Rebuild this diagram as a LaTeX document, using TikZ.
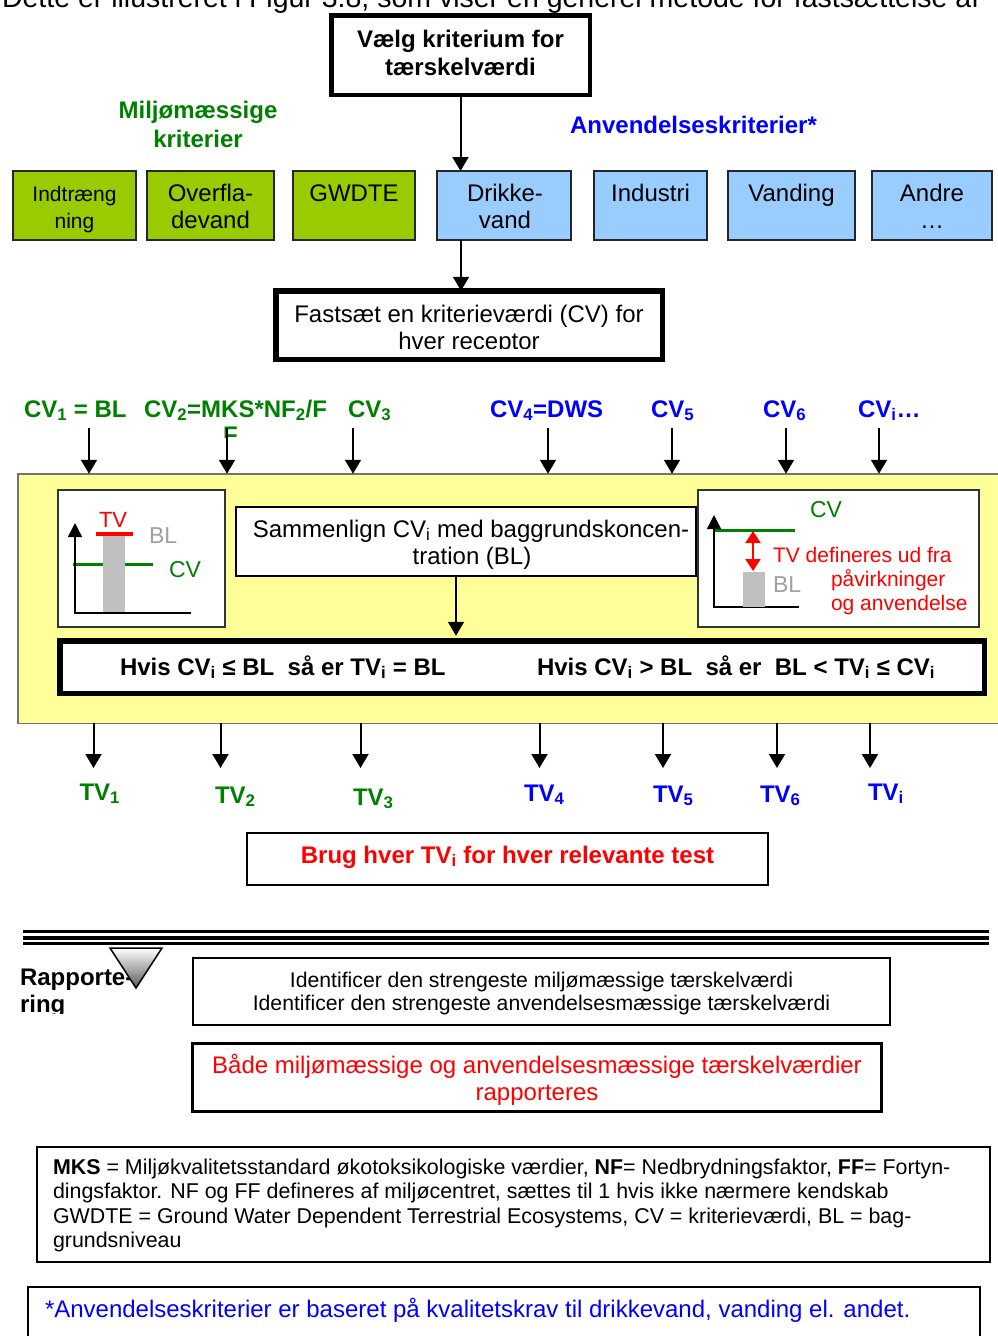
\documentclass[tikz,border=0pt]{standalone}
\usepackage{fontspec}
\setmainfont{Liberation Sans}
\usetikzlibrary{arrows.meta}
\definecolor{mgreen}{HTML}{008000}
\definecolor{mblue}{HTML}{0000FF}
\definecolor{mred}{HTML}{FF0000}
\definecolor{boxgreen}{HTML}{99CC00}
\definecolor{boxblue}{HTML}{99CCFF}
\definecolor{myellow}{HTML}{FFFF99}
\definecolor{bargray}{HTML}{C0C0C0}
\definecolor{blgray}{HTML}{A0A0A0}
\newcommand{\fsz}[1]{\fontsize{#1}{#1}\selectfont}
\newcommand{\sbs}[1]{\textsubscript{#1}}
\begin{document}
\begin{tikzpicture}[x=1pt,y=-1pt,
 every node/.style={inner sep=0pt,outer sep=0pt},
 t24/.style={font=\fsz{24}},
 b24/.style={font=\bfseries\fsz{24}},
 t21/.style={font=\fsz{21}},
 arr/.style={line width=2pt,-{Triangle[length=14pt,width=16pt]}},
 axarr/.style={line width=1.5pt,-{Triangle[length=14pt,width=14pt]}},
 crit/.style={draw=black!85,line width=2pt,minimum height=69pt},
 critg/.style={crit,fill=boxgreen},
 critb/.style={crit,fill=boxblue},
 thinbox/.style={draw=black,line width=2pt,fill=white},
 thickbox/.style={draw=black,line width=5.5pt,fill=white},
 plotbox/.style={draw=black!80,line width=2pt,fill=white},
]
\useasboundingbox (0,0) rectangle (997,1336);

% intro line (cut off by the page)
\node[font=\fsz{28.5},anchor=base west] (intro) at (2,7.5) {Dette er illustreret i Figur 3.8, som viser en generel metode for fastsættelse af};

% top box
\node[thickbox,line width=4.5pt,minimum width=258.5pt,minimum height=79.5pt] (vaelg) at (460.5,55) {};
\node[b24,anchor=base] (vaelg1) at (460.5,47) {Vælg kriterium for};
\node[b24,anchor=base] (vaelg2) at (460.5,75) {tærskelværdi};

\node[b24,text=mgreen,anchor=base] (milj1) at (198,118) {Miljømæssige};
\node[b24,text=mgreen,anchor=base] (milj2) at (198,147) {kriterier};
\node[b24,text=mblue,anchor=base] (anv) at (693.5,133) {Anvendelseskriterier*};

% criteria boxes
\node[critg,minimum width=123pt] (ind) at (74.5,205.5) {};
\node[critg,minimum width=127pt] (ovf) at (210.5,205.5) {};
\node[critg,minimum width=122pt] (gwd) at (354,205.5) {};
\node[critb,minimum width=134pt] (drk) at (504,205.5) {};
\node[critb,minimum width=113pt] (ids) at (650.5,205.5) {};
\node[critb,minimum width=127pt] (vnd) at (791.5,205.5) {};
\node[critb,minimum width=120pt] (and) at (932,205.5) {};

\node[t21,anchor=base] (ind1) at (74.5,201) {Indtræng};
\node[t21,anchor=base] (ind2) at (74.5,228) {ning};
\node[t24,anchor=base] (ovf1) at (210.5,201) {Overfla-};
\node[t24,anchor=base] (ovf2) at (210.5,228) {devand};
\node[t24,anchor=base] (gwd1) at (354,201) {GWDTE};
\node[t24,anchor=base] (drk1) at (505,201) {Drikke-};
\node[t24,anchor=base] (drk2) at (505,228) {vand};
\node[t24,anchor=base] (ids1) at (650.5,201) {Industri};
\node[t24,anchor=base] (vnd1) at (791.5,201) {Vanding};
\node[t24,anchor=base] (and1) at (932,201) {Andre};
\node[t24,anchor=base] (and2) at (932,228) {…};

% arrows top
\draw[arr] (vaelg.south) -- (vaelg.south |- drk.north);
\coordinate (a2x) at (461,0);
\node[thickbox,minimum width=386.5pt,minimum height=68.5pt] (fast) at (469,325) {};
\draw[arr] (drk.south -| a2x) -- (fast.north -| a2x);
\node[t24,anchor=base] (fast1) at (469,322) {Fastsæt en kriterieværdi (CV) for};
\begin{scope}
\clip (276,300) rectangle (662,348.5);
\node[t24,anchor=base] (fast2) at (469,349) {hver receptor};
\end{scope}

% CV labels
\node[b24,text=mgreen,anchor=base west] (cv1) at (24,417) {CV\sbs{1} = BL};
\node[b24,text=mgreen,anchor=base west] (cv2) at (144,417) {CV\sbs{2}=MKS*NF\sbs{2}/F};
\begin{scope}
\clip (200,420) rectangle (260,437);
\node[b24,text=mgreen,anchor=base west] (cv2b) at (223,443) {F};
\end{scope}
\node[b24,text=mgreen,anchor=base west] (cv3) at (348,417) {CV\sbs{3}};
\node[b24,text=mblue,anchor=base west] (cv4) at (490,417) {CV\sbs{4}=DWS};
\node[b24,text=mblue,anchor=base west] (cv5) at (651,417) {CV\sbs{5}};
\node[b24,text=mblue,anchor=base west] (cv6) at (763,417) {CV\sbs{6}};
\node[b24,text=mblue,anchor=base west] (cvi) at (858,417) {CV\sbs{i}…};

% yellow box
\node[draw=black!55,line width=1.5pt,fill=myellow,minimum width=986.5pt,minimum height=249.5pt] (yel) at (511,598.5) {};

\foreach \n/\x in {1/89,2/227,3/353,4/548,5/672,6/786,7/879}{
  \coordinate (u\n) at (\x,428);
  \draw[arr] (u\n) -- (u\n |- yel.north);
}

% left plot box
\node[plotbox,minimum width=167pt,minimum height=137pt] (lbox) at (141.5,558.5) {};
\draw[mgreen,line width=3pt] (73,564) -- (153,564);
\fill[bargray] (103,535) rectangle (125,613);
\draw[mred,line width=3.5pt] (96,534) -- (133,534);
\draw[axarr] (191,613) -- (75,613) -- (75,523);
\node[font=\fsz{22},text=mred,anchor=base west] (ltv) at (99,527) {TV};
\node[font=\fsz{23},text=blgray,anchor=base west] (lbl) at (149,543) {BL};
\node[font=\fsz{23},text=mgreen,anchor=base west] (lcv) at (169,577) {CV};

% compare box
\node[thinbox,minimum width=460pt,minimum height=69pt] (smb) at (466,541.5) {};
\node[t24,anchor=base] (smb1) at (471,537) {Sammenlign CV\sbs{i} med baggrundskoncen-};
\node[t24,anchor=base] (smb2) at (472,564) {tration (BL)};

% right plot box
\node[plotbox,minimum width=281pt,minimum height=137pt] (rbox) at (838.5,558.5) {};
\draw[mgreen,line width=3pt] (714,530) -- (795,530);
\draw[axarr] (799,607) -- (714,607) -- (714,515);
\fill[bargray] (743,572) rectangle (765,607);
\draw[mred,line width=2pt,{Triangle[length=12pt,width=15pt]}-{Triangle[length=12pt,width=15pt]}] (753,531) -- (753,571);
\node[font=\fsz{23},text=mgreen,anchor=base west] (rcv) at (810,517) {CV};
\node[font=\fsz{23},text=blgray,anchor=base west] (rbl) at (773,592) {BL};
\node[t21,text=mred,anchor=base west] (rt1) at (773,562) {TV defineres ud fra};
\node[t21,text=mred,anchor=base west] (rt2) at (831,586) {påvirkninger};
\node[t21,text=mred,anchor=base west] (rt3) at (831,610) {og anvendelse};

% rule box
\node[thickbox,minimum width=924.5pt,minimum height=52.5pt] (hvis) at (522,667) {};
\coordinate (a3x) at (456,0);
\draw[arr,shorten >=5pt] (smb.south -| a3x) -- (hvis.north -| a3x);
\node[b24,anchor=base west] (hv1) at (120,675) {Hvis CV\sbs{i} ≤ BL\ \ så er TV\sbs{i} = BL};
\node[b24,anchor=base west] (hv2) at (537,675) {Hvis CV\sbs{i} > BL\ \ så er\ \ BL < TV\sbs{i} ≤ CV\sbs{i}};

% lower arrows
\foreach \n/\x in {1/93.5,2/220.5,3/360.5,4/539.5,5/663,6/777,7/870}{
  \coordinate (d\n) at (\x,768);
  \draw[arr] (yel.south -| d\n) -- (d\n);
}

% TV labels
\node[b24,text=mgreen,anchor=base west] (tv1) at (79.5,800) {TV\sbs{1}};
\node[b24,text=mgreen,anchor=base west] (tv2) at (215,803) {TV\sbs{2}};
\node[b24,text=mgreen,anchor=base west] (tv3) at (353,805) {TV\sbs{3}};
\node[b24,text=mblue,anchor=base west] (tv4) at (524,801) {TV\sbs{4}};
\node[b24,text=mblue,anchor=base west] (tv5) at (653,802) {TV\sbs{5}};
\node[b24,text=mblue,anchor=base west] (tv6) at (760,802) {TV\sbs{6}};
\node[b24,text=mblue,anchor=base west] (tvi) at (868,800) {TV\sbs{i}};

% use box
\node[thinbox,minimum width=521pt,minimum height=52pt] (brug) at (507.5,859) {};
\node[b24,text=mred,anchor=base] (brug1) at (507.5,863) {Brug hver TV\sbs{i} for hver relevante test};

% triple rule
\draw[line width=2.5pt] (23,931.5) -- (989,931.5);
\draw[line width=4pt] (23,938) -- (989,938);
\draw[line width=2.5pt] (23,943.5) -- (989,943.5);

% reporting label + triangle
\begin{scope}
\clip (0,950) rectangle (200,1013.5);
\node[b24,anchor=base west] (rap1) at (20,985) {Rapporte-};
\node[b24,anchor=base west] (rap2) at (20,1012) {ring};
\end{scope}
\shade[top color=white,bottom color=black!65] (110,948) -- (162,948) -- (136,988) -- cycle;
\draw[line width=1.5pt,line join=miter] (110,948) -- (162,948) -- (136,988) -- cycle;

% identify box
\node[thinbox,minimum width=697pt,minimum height=67pt] (idb) at (541.5,991.5) {};
\node[font=\fsz{21.2},anchor=base] (idb1) at (541.5,987) {Identificer den strengeste miljømæssige tærskelværdi};
\node[font=\fsz{21.2},anchor=base] (idb2) at (541.5,1010) {Identificer den strengeste anvendelsesmæssige tærskelværdi};

% both box
\node[thinbox,line width=3pt,minimum width=689pt,minimum height=68pt] (bde) at (537,1077.5) {};
\node[t24,text=mred,anchor=base] (bde1) at (537,1073) {Både miljømæssige og anvendelsesmæssige tærskelværdier};
\node[t24,text=mred,anchor=base] (bde2) at (537,1100) {rapporteres};

% legend box
\tikzset{leg/.style={font=\fsz{21.4},anchor=base west}}
\node[thinbox,minimum width=953pt,minimum height=115pt] (mks) at (513.5,1204.5) {};
\node[leg] (mks1) at (53,1174) {\textbf{MKS} = Miljøkvalitetsstandard økotoksikologiske værdier, \textbf{NF}= Nedbrydningsfaktor, \textbf{FF}= Fortyn-};
\node[leg] (mks2) at (53,1198.5) {dingsfaktor. NF og FF defineres af miljøcentret, sættes til 1 hvis ikke nærmere kendskab};
\node[leg] (mks3) at (53,1223) {GWDTE = Ground Water Dependent Terrestrial Ecosystems, CV = kriterieværdi, BL = bag-};
\node[leg] (mks4) at (53,1247) {grundsniveau};

% footnote box
\node[thinbox,minimum width=952pt,minimum height=57pt] (fn) at (504,1315.5) {};
\node[t24,text=mblue,anchor=base west] (fn1) at (45,1317) {*Anvendelseskriterier er baseret på kvalitetskrav til drikkevand, vanding el. andet.};
\end{tikzpicture}
\end{document}
